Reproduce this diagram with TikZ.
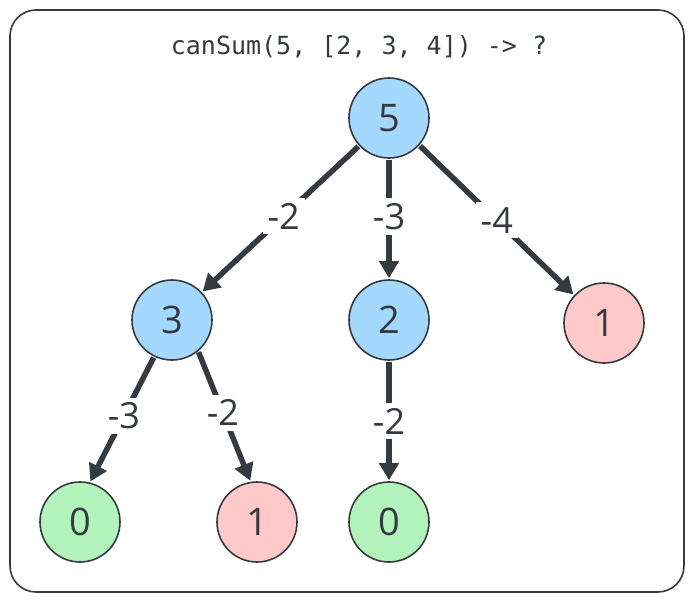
\documentclass[tikz,border=0pt]{standalone}
\usepackage{fontspec}
\setmainfont{Open Sans}
\newfontfamily\titlefont{DejaVu Sans Mono}
\usetikzlibrary{arrows.meta}
\definecolor{ink}{HTML}{343A40}
\definecolor{blueF}{HTML}{A5D8FF}
\definecolor{redF}{HTML}{FFC9C9}
\definecolor{greenF}{HTML}{B2F2BB}
\tikzset{
  numnode/.style={circle, draw=ink, line width=1.6pt, minimum size=80pt, inner sep=0pt, text=ink, font=\fontsize{38}{40}\selectfont},
  bluenode/.style={numnode, fill=blueF},
  rednode/.style={numnode, fill=redF},
  greennode/.style={numnode, fill=greenF},
  edge/.style={draw=ink, line width=5.5pt, -{Triangle[length=17pt,width=19pt]}, shorten <=1pt, shorten >=1pt},
  elabel/.style={fill=white, text=ink, inner sep=5pt, font=\fontsize{36}{38}\selectfont}
}
\begin{document}
\begin{tikzpicture}[x=1pt,y=-1pt]
\useasboundingbox (0,0) rectangle (694,603);
\draw[draw=ink, line width=1.6pt, rounded corners=26pt] (10,10) rectangle (684,592);
\node[text=ink, font=\titlefont\fontsize{25}{27}\selectfont] (title) at (359,47) {canSum(5, [2, 3, 4]) -> ?};
\node[bluenode] (n5) at (389,118) {5};
\node[bluenode] (n3) at (172,320) {3};
\node[bluenode] (n2) at (389,320) {2};
\node[rednode] (n1a) at (604,323) {1};
\node[greennode] (n0a) at (80,522) {0};
\node[rednode] (n1b) at (257,522) {1};
\node[greennode] (n0b) at (389,522) {0};
\draw[edge] (n5) -- node[elabel, pos=0.48] {-2} (n3);
\draw[edge] (n5) -- node[elabel, pos=0.48] {-3} (n2);
\draw[edge] (n5.-42) -- node[elabel, pos=0.5] {-4} (n1a.137);
\draw[edge] (n3.-116) -- node[elabel, pos=0.47] {-3} (n0a.76);
\draw[edge] (n3.-50) -- node[elabel, pos=0.47] {-2} (n1b.99);
\draw[edge] (n2) -- node[elabel, pos=0.5] {-2} (n0b);
\end{tikzpicture}
\end{document}
